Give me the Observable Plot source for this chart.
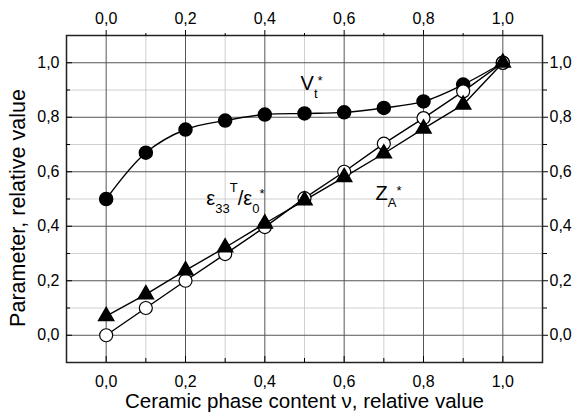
<!DOCTYPE html>
<html><head><meta charset="utf-8">
<script src="https://cdn.jsdelivr.net/npm/d3@7"></script>
<script src="https://cdn.jsdelivr.net/npm/@observablehq/plot@0.6"></script>
<style>body{margin:0;background:#fff}</style>
</head><body><div id="chart"></div>
<script>
// Ceramic phase content (relative value)
const content = [0.0, 0.1, 0.2, 0.3, 0.4, 0.5, 0.6, 0.7, 0.8, 0.9, 1.0];
// Series values
const vt  = [0.50, 0.67, 0.755, 0.788, 0.81, 0.814, 0.818, 0.834, 0.858, 0.92, 1.0];
const eps = [0.00, 0.10, 0.20, 0.298, 0.397, 0.503, 0.60, 0.703, 0.797, 0.895, 1.0];
const za  = [0.07, 0.15, 0.238, 0.322, 0.41, 0.495, 0.58, 0.667, 0.758, 0.846, 1.0];
// Ticks
const majorTicks = [0.0, 0.2, 0.4, 0.6, 0.8, 1.0];
const minorTicks = [0.1, 0.3, 0.5, 0.7, 0.9];
const xTitle = "Ceramic phase content \u03bd, relative value";
const yTitle = "Parameter, relative value";
// Curve labels
const labelX = [0.49, 0.2525, 0.679];
const labelY = [0.90, 0.477, 0.495];
const labelParts = [
  [["V", 0, 0], ["t", 8, 1], ["*", -5, 1]],
  [["\u03b5", 0, 0], ["33", 8, 1], ["T", -13, 1], ["/\u03b5", 0, 0], ["0", 8, 1], ["*", -7, 1]],
  [["Z", 0, 0], ["A", 7, 1], ["*", -5, 1]]
];

const fmt = d => d.toFixed(1).replace(".", ",");
const table = content.map((c, i) => ({c, vt: vt[i], eps: eps[i], za: za[i]}));
const labels = labelX.map((x, i) => ({x, y: labelY[i], i}));

const plot = Plot.plot({
  width: 577, height: 415,
  marginLeft: 66, marginRight: 35, marginTop: 35, marginBottom: 53,
  style: {fontFamily: "'Liberation Sans', Arial, sans-serif", fontSize: "16px", background: "#fff", color: "#000"},
  x: {domain: [-0.1, 1.1]},
  y: {domain: [-0.1, 1.1]},
  marks: [
    Plot.gridX(minorTicks, {stroke: "#c4c4c4", strokeOpacity: 1, strokeWidth: 0.8}),
    Plot.gridY(minorTicks, {stroke: "#c4c4c4", strokeOpacity: 1, strokeWidth: 0.8}),
    Plot.gridX(majorTicks, {stroke: "#555", strokeOpacity: 1, strokeWidth: 1}),
    Plot.gridY(majorTicks, {stroke: "#555", strokeOpacity: 1, strokeWidth: 1}),
    Plot.line(table, {x: "c", y: "za", stroke: "#000", strokeWidth: 1.4}),
    Plot.line(table, {x: "c", y: "eps", stroke: "#000", strokeWidth: 1.4}),
    Plot.line(table, {x: "c", y: "vt", stroke: "#000", strokeWidth: 1.4, curve: "catmull-rom"}),
    Plot.dot(table, {x: "c", y: "vt", r: 6.5, fill: "#000", stroke: "#000"}),
    Plot.dot(table, {x: "c", y: "eps", r: 6.5, fill: "#fff", stroke: "#000", strokeWidth: 1.2}),
    Plot.dot(table, {x: "c", y: "za", r: 5.6, symbol: "triangle", fill: "#000", stroke: "#000"}),
    Plot.frame({stroke: "#222", strokeWidth: 1.5}),
    // bottom axis: labels + inward ticks
    Plot.axisX(majorTicks, {anchor: "bottom", tickSize: 0, tickPadding: 13, tickFormat: fmt, label: null}),
    Plot.axisX(majorTicks, {anchor: "bottom", tickSize: -6, fill: "none", label: null}),
    Plot.axisX(minorTicks, {anchor: "bottom", tickSize: -4, fill: "none", label: null}),
    // top axis: outward ticks
    Plot.axisX(majorTicks, {anchor: "top", tickSize: 6, tickPadding: 6, tickFormat: fmt, label: null}),
    Plot.axisX(minorTicks, {anchor: "top", tickSize: 3, fill: "none", label: null}),
    // left axis
    Plot.axisY(majorTicks, {anchor: "left", tickSize: 0, tickPadding: 7, tickFormat: fmt, label: null}),
    Plot.axisY(majorTicks, {anchor: "left", tickSize: -6, fill: "none", label: null}),
    Plot.axisY(minorTicks, {anchor: "left", tickSize: -4, fill: "none", label: null}),
    // right axis
    Plot.axisY(majorTicks, {anchor: "right", tickSize: 5, tickPadding: 2, tickFormat: fmt, label: null}),
    Plot.axisY(minorTicks, {anchor: "right", tickSize: 4, fill: "none", label: null}),
    // axis titles
    Plot.text([xTitle], {frameAnchor: "bottom", textAnchor: "middle", text: d => d, dy: 45, fontSize: 20.5, lineAnchor: "bottom"}),
    Plot.text([yTitle], {frameAnchor: "left", textAnchor: "middle", text: d => d, rotate: -90, dx: -48, dy: 9, fontSize: 21.5, lineAnchor: "middle"}),
    // curve labels (rich text built below)
    Plot.text(labels, {x: "x", y: "y", text: d => "L" + d.i, textAnchor: "start", lineAnchor: "bottom", fontSize: 20, className: "curve-label"})
  ]
});

d3.select(plot).selectAll(".curve-label text").each(function() {
  const t = d3.select(this);
  const idx = +t.text().slice(1);
  t.text(null).attr("dy", null);
  let cur = 0;
  for (const [s, shift, small] of labelParts[idx]) {
    t.append("tspan").attr("dy", shift - cur).attr("font-size", small ? 13 : 20).text(s);
    cur = shift;
  }
});

document.getElementById("chart").appendChild(plot);
</script>
</body></html>
